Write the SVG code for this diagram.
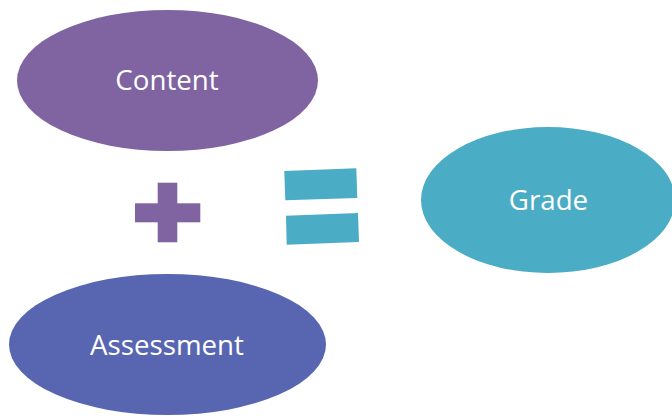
<svg xmlns="http://www.w3.org/2000/svg" width="672" height="416" viewBox="0 0 672 416">
<style>
.lbl{font-family:"Open Sans","Noto Sans","Liberation Sans",sans-serif;font-size:27.7px;fill:#ffffff;text-anchor:middle}
.purple{fill:#8064A2}
.blue{fill:#5866B1}
.teal{fill:#4BACC6}
</style>
<rect width="672" height="416" fill="#ffffff"/>
<g id="content">
<ellipse class="purple" cx="167.5" cy="80.5" rx="150.5" ry="70.5"/>
<text class="lbl" x="167" y="90">Content</text>
</g>
<g id="plus">
<rect class="purple" x="157.7" y="182.7" width="19.6" height="59.6"/>
<rect class="purple" x="135" y="203.3" width="65.3" height="19"/>
</g>
<g id="equals">
<polygon class="teal" points="284.3,171 356.3,168.3 357.3,198 285.3,200.3"/>
<polygon class="teal" points="286,215.7 358,213 359,242 286.7,244.7"/>
</g>
<g id="grade">
<ellipse class="teal" cx="548" cy="200" rx="127" ry="73"/>
<text class="lbl" x="548.5" y="210">Grade</text>
</g>
<g id="assessment">
<ellipse class="blue" cx="167.5" cy="344.5" rx="158.5" ry="70.5"/>
<text class="lbl" x="167" y="355">Assessment</text>
</g>
<g id="connectors"></g>
</svg>
